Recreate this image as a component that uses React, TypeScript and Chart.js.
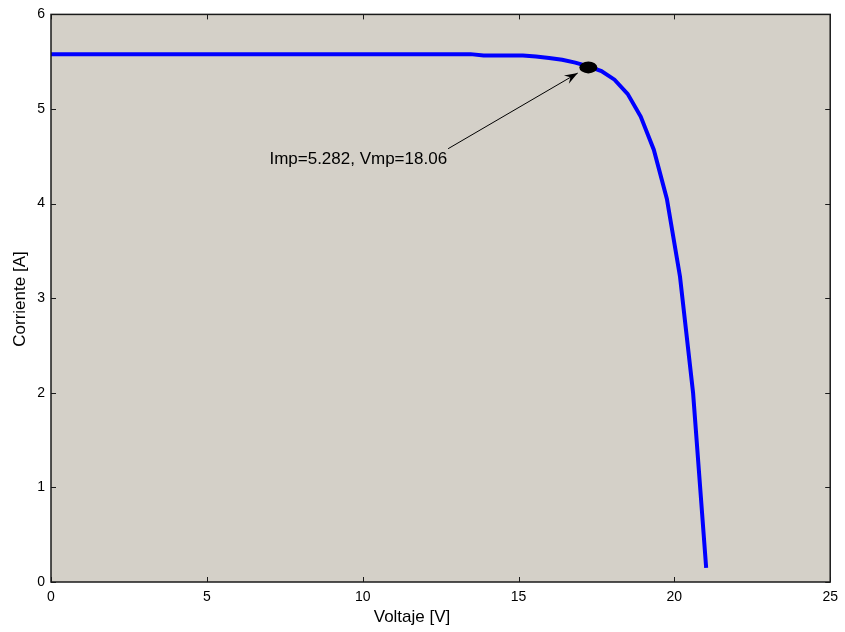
import React, { useEffect, useRef } from "react";
import { Chart, registerables } from "chart.js";

Chart.register(...registerables);

const voltage = [0, 13.46, 13.88, 14.3, 14.72, 15.14, 15.56, 15.98, 16.4, 16.82, 17.24, 17.66, 18.08, 18.5, 18.92, 19.34, 19.76, 20.18, 20.6, 21.02];
const current = [5.58, 5.58, 5.565, 5.565, 5.565, 5.565, 5.555, 5.54, 5.52, 5.49, 5.45, 5.4, 5.31, 5.16, 4.92, 4.57, 4.05, 3.23, 2.0, 0.15];
const mppV = [17.24];
const mppI = [5.44];
const annotationText = "Imp=5.282, Vmp=18.06";
const xTitle = "Voltaje [V]";
const yTitle = "Corriente [A]";
const xTicks = [0, 5, 10, 15, 20, 25];
const yTicks = [0, 1, 2, 3, 4, 5, 6];

const FONT = "'Liberation Sans', Arial, sans-serif";

const framePlugin = {
  id: "frame",
  beforeDraw(chart: any) {
    const { ctx, chartArea: a } = chart;
    ctx.save();
    ctx.fillStyle = "#d4d0c8";
    ctx.fillRect(a.left, a.top, a.right - a.left, a.bottom - a.top);
    ctx.restore();
  },
  afterDatasetsDraw(chart: any) {
    const { ctx, chartArea: a, scales } = chart;
    const xs = scales.x;
    const ys = scales.y;
    ctx.save();
    // ticks inward
    ctx.strokeStyle = "#1a1a1a";
    ctx.lineWidth = 1;
    const tl = 5;
    ctx.beginPath();
    xTicks.forEach((t) => {
      const px = Math.round(xs.getPixelForValue(t)) + 0.5;
      ctx.moveTo(px, a.bottom);
      ctx.lineTo(px, a.bottom - tl);
      ctx.moveTo(px, a.top);
      ctx.lineTo(px, a.top + tl);
    });
    yTicks.forEach((t) => {
      const py = Math.round(ys.getPixelForValue(t)) + 0.5;
      ctx.moveTo(a.left, py);
      ctx.lineTo(a.left + tl, py);
      ctx.moveTo(a.right, py);
      ctx.lineTo(a.right - tl, py);
    });
    ctx.stroke();
    // frame
    ctx.lineWidth = 1.5;
    ctx.strokeRect(a.left, a.top, a.right - a.left, a.bottom - a.top);

    // MPP ellipse
    const cx = xs.getPixelForValue(mppV[0]);
    const cy = ys.getPixelForValue(mppI[0]);
    ctx.fillStyle = "#000";
    ctx.beginPath();
    ctx.ellipse(cx, cy, 9, 6, 0, 0, Math.PI * 2);
    ctx.fill();

    // annotation arrow
    const sx = xs.getPixelForValue(12.74);
    const sy = ys.getPixelForValue(4.58);
    const ex = xs.getPixelForValue(16.9);
    const ey = ys.getPixelForValue(5.38);
    ctx.strokeStyle = "#000";
    ctx.lineWidth = 1;
    ctx.beginPath();
    ctx.moveTo(sx, sy);
    ctx.lineTo(ex, ey);
    ctx.stroke();
    const ang = Math.atan2(ey - sy, ex - sx);
    const hl = 14;
    const hw = 0.35;
    ctx.beginPath();
    ctx.moveTo(ex, ey);
    ctx.lineTo(ex - hl * Math.cos(ang - hw), ey - hl * Math.sin(ang - hw));
    ctx.lineTo(ex - hl * 0.6 * Math.cos(ang), ey - hl * 0.6 * Math.sin(ang));
    ctx.lineTo(ex - hl * Math.cos(ang + hw), ey - hl * Math.sin(ang + hw));
    ctx.closePath();
    ctx.fill();

    // annotation text
    ctx.font = `17px ${FONT}`;
    ctx.fillStyle = "#000";
    ctx.textAlign = "right";
    ctx.textBaseline = "middle";
    ctx.fillText(annotationText, sx - 1, ys.getPixelForValue(4.47));

    // axis titles
    ctx.textAlign = "center";
    ctx.fillText(xTitle, 412, 617);
    ctx.translate(20, 299);
    ctx.rotate(-Math.PI / 2);
    ctx.fillText(yTitle, 0, 0);
    ctx.restore();
  },
};

export default function App() {
  const ref = useRef<HTMLCanvasElement>(null);
  useEffect(() => {
    if (!ref.current) return;
    const chart = new Chart(ref.current, {
      type: "scatter",
      data: {
        datasets: [
          {
            data: voltage.map((v, i) => ({ x: v, y: current[i] })),
            showLine: true,
            borderColor: "#0000ff",
            borderWidth: 4,
            pointRadius: 0,
            tension: 0,
            fill: false,
          },
        ],
      },
      options: {
        animation: false,
        responsive: false,
        maintainAspectRatio: false,
        layout: { padding: { top: 12, right: 12, left: 0, bottom: 0 } },
        plugins: { legend: { display: false }, tooltip: { enabled: false } },
        scales: {
          x: {
            type: "linear",
            min: 0,
            max: 25,
            grid: { display: false, drawTicks: false },
            border: { display: false },
            afterFit: (s: any) => { s.height = 50; },
            afterBuildTicks: (s: any) => { s.ticks = xTicks.map((v) => ({ value: v })); },
            ticks: { color: "#000", font: { family: FONT, size: 14 }, padding: 7, maxRotation: 0 },
            title: { display: false },
          },
          y: {
            type: "linear",
            min: 0,
            max: 6,
            grid: { display: false, drawTicks: false },
            border: { display: false },
            afterFit: (s: any) => { s.width = 51; },
            afterBuildTicks: (s: any) => { s.ticks = yTicks.map((v) => ({ value: v })); },
            ticks: { color: "#000", font: { family: FONT, size: 14 }, padding: 6 },
            title: { display: false },
          },
        },
      },
      plugins: [framePlugin],
    });
    return () => chart.destroy();
  }, []);
  return (
    <div style={{ position: "fixed", left: 0, top: 0, width: 845, height: 632, background: "#fff" }}>
      <canvas ref={ref} width={845} height={632} style={{ width: 845, height: 632, display: "block" }} />
    </div>
  );
}
